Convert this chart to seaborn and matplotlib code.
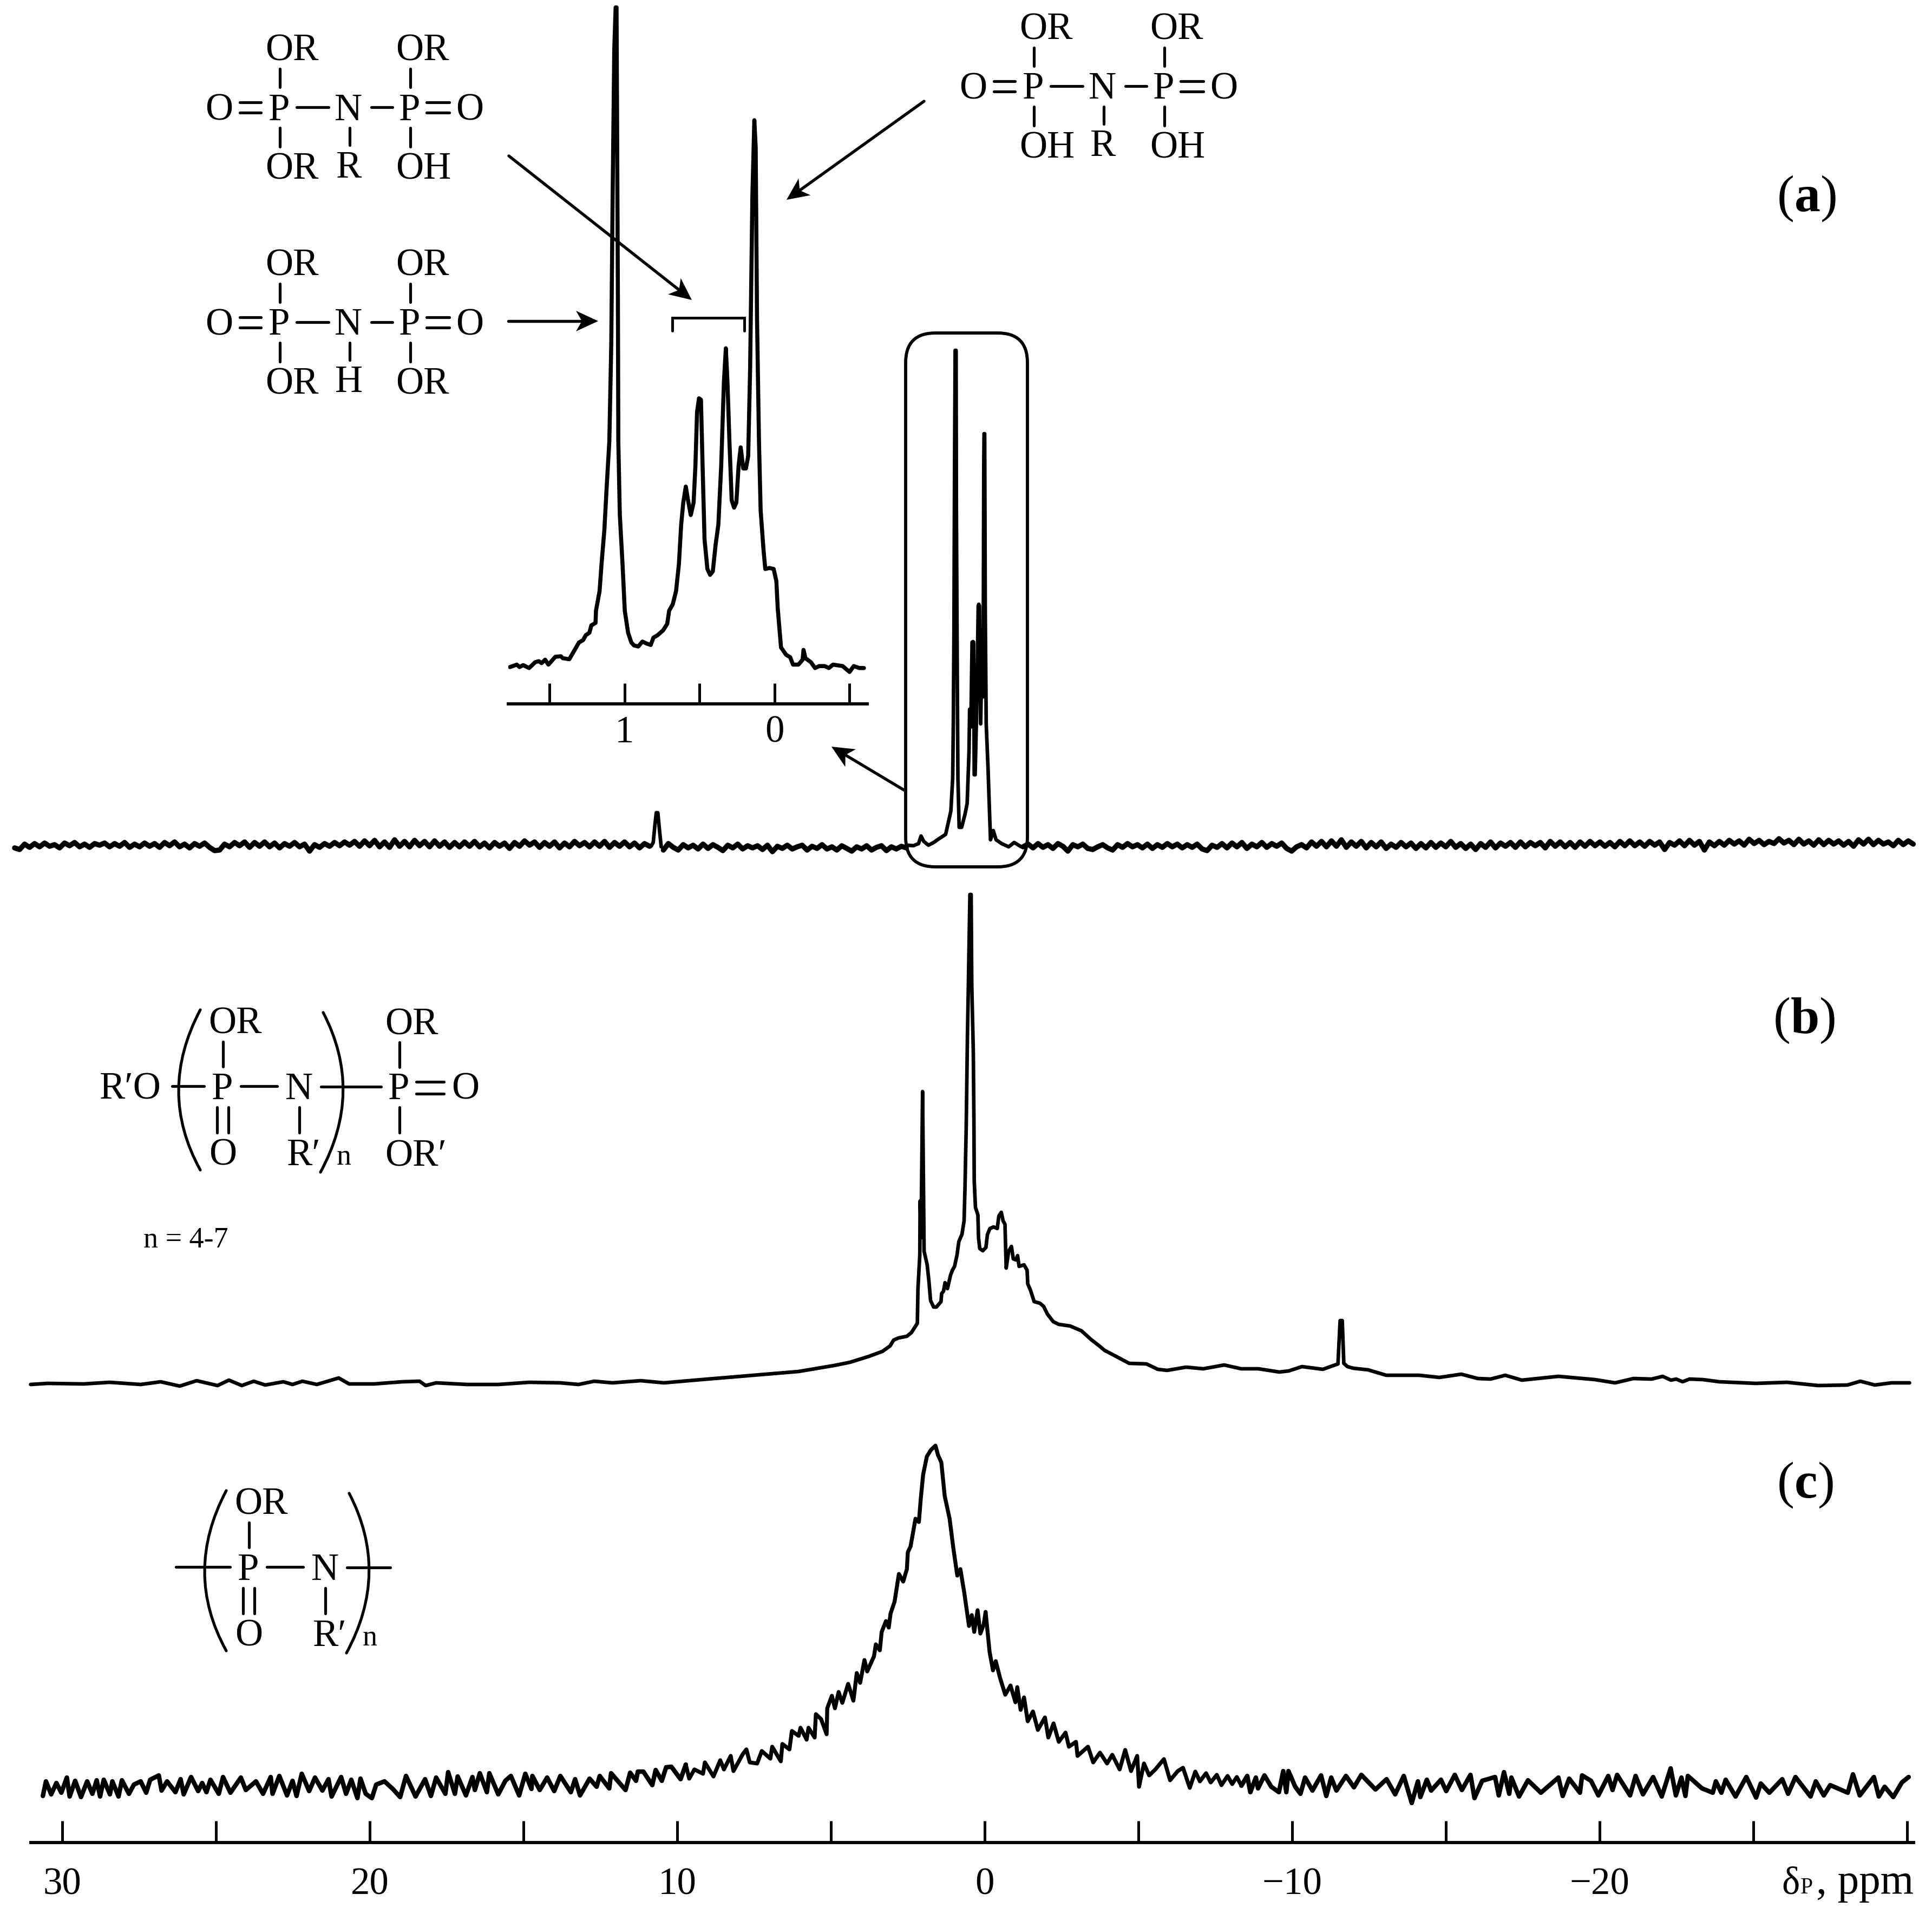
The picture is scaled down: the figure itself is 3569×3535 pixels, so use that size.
import numpy as np
import matplotlib
matplotlib.use("Agg")
import matplotlib.pyplot as plt
import seaborn as sns
from matplotlib.patches import FancyBboxPatch, PathPatch, Polygon
from matplotlib.path import Path

W, H = 3569, 3535
DPI = 300

# ── spectrum (a) ───────────────────────────────────────────────────────────
# noise on either side of the peaks, evenly sampled in ppm
a_noise_left = [
    -5,-8,2,-4,3,-3,4,-2,1,-5,4,-1,5,-3,2,-4,3,0,4,-3,
    3,-2,5,-4,2,-3,4,-2,3,-4,5,-1,6,-3,2,-5,3,-2,4,-4,
    -10,-9,2,-3,5,-1,6,-4,5,-2,6,-3,4,-5,3,-2,5,-3,2,-11,
    1,-4,3,-2,5,-1,6,0,7,-2,8,-1,9,-3,6,-4,10,-2,7,-3,
    9,-1,7,-3,8,-2,6,-4,5,-3,6,-2,7,-3,4,-5,5,-2,4,-6,
    5,-2,8,0,6,-4,5,-2,6,-5,4,-3,7,-1,5,-3,6,-2,7,-4,
    5,-2,6,-3,4,-5,3,-2]
a_spike_ppm = [10.85, 10.78, 10.72, 10.68, 10.63, 10.58, 10.52]
a_spike_int = [-2, 5, 40, 60, 60, 30, -3]
a_noise_mid = [
    -9,3,-4,-9,1,-5,0,-7,2,-6,1,-4,-10,0,-5,2,-7,-1,-5,-1,
    -8,0,-12,-2,-6,0,-7,-3,0,-9,-2,-6,1,-7,-3,-9,-1,-6,-11,-3,
    -7,-1,-9,-4,-1,-10,-3,-7,-2,-5]
a_peak_ppm = [
    2.51,2.32,2.15,2.07,1.98,1.83,1.66,1.51,1.27,1.19,1.10,1.04,1.02,1.00,0.98,0.96,0.93,0.92,
    0.89,0.87,0.83,0.75,0.64,0.57,0.51,0.49,0.45,0.41,0.38,0.36,0.34,0.31,0.26,0.21,0.19,0.17,
    0.13,0.10,0.05,0.03,0.02,0.00,-0.02,-0.05,-0.11,-0.16,-0.19,-0.28,-0.37,-0.55,-0.78,-0.96,-1.19]
a_peak_int = [
    0,-1,3,17,7,0,5,11,20,40,63,124,224,392,693,914,914,626,
    305,124,33,33,57,77,171,251,218,375,376,375,130,130,251,442,445,442,
    224,325,274,693,760,760,425,224,141,57,10,27,10,3,-3,5,-3]
a_noise_right = [
    -3,2,-5,3,-4,1,-6,3,-2,-11,1,-3,2,-6,-8,-3,1,-5,-9,1,
    -4,3,-3,1,-5,2,-6,1,-4,3,-3,2,-5,1,-4,2,-7,-10,0,-4,
    3,-5,4,-3,5,-6,2,-3,5,-4,3,-2,4,-6,-11,-3,1,-5,6,-2,
    7,-3,8,-2,10,-4,6,-2,7,-5,5,-3,6,-6,2,-4,5,-3,4,-6,
    3,-5,5,-4,4,-3,7,-4,3,-6,2,-8,3,-4,6,-5,4,-2,5,-4,
    6,-3,5,-1,5,-5,7,-2,6,-3,5,-4,6,-2,7,-1,6,-2,5,-3,
    7,-1,8,-1,6,-2,7,0,6,-8,5,0,8,-1,9,0,7,-9,6,-1,
    7,0,9,2,8,0,11,3,9,1,7,3,12,4,9,1,11,2,8,0,
    10,1,9,2,8,0,7,-2,10,2,11,1,9,2,6,-1,9,1,8,2]

# ── inset: expansion of (a) ────────────────────────────────────────────────
inset_ppm = [
    1.764,1.718,1.700,1.676,1.636,1.595,1.571,1.553,1.529,1.507,1.461,1.424,1.411,1.368,1.332,1.304,
    1.276,1.258,1.234,1.221,1.193,1.190,1.166,1.153,1.134,1.120,1.101,1.088,1.079,1.068,1.059,1.053,
    1.050,1.044,1.041,1.031,1.013,0.998,0.976,0.954,0.936,0.908,0.880,0.853,0.825,0.807,0.779,0.742,
    0.715,0.702,0.678,0.656,0.637,0.622,0.608,0.591,0.576,0.558,0.539,0.527,0.516,0.503,0.490,0.479,
    0.466,0.447,0.429,0.411,0.392,0.374,0.355,0.337,0.324,0.313,0.300,0.285,0.269,0.254,0.239,0.225,
    0.208,0.190,0.175,0.162,0.147,0.134,0.125,0.116,0.103,0.092,0.073,0.061,0.033,0.005,-0.013,-0.022,
    -0.044,-0.078,-0.105,-0.124,-0.160,-0.188,-0.194,-0.207,-0.243,-0.271,-0.299,-0.335,-0.363,-0.391,
    -0.455,-0.501,-0.529,-0.566,-0.597]
inset_int = [
    0,5,0,4,-2,10,12,8,15,5,21,22,18,16,35,50,
    55,65,70,85,90,115,155,210,280,360,460,660,960,1260,1345,1345,
    1160,760,460,310,210,115,70,50,44,42,52,48,45,60,65,75,
    88,115,128,155,210,290,335,368,340,310,335,410,520,548,545,410,
    260,200,188,195,250,290,410,580,650,580,460,340,325,335,410,448,
    405,405,430,610,960,1115,1060,710,460,320,240,200,202,200,175,120,
    40,25,20,5,5,15,35,18,10,-2,2,2,-2,5,
    2,-10,2,-2,-2]
inset_ticks = [1.5, 1, 0.5, 0, -0.5]
inset_ticklabels = ["", "1", "", "0", ""]

# ── spectrum (b) ───────────────────────────────────────────────────────────
b_ppm = [
    31.03,30.48,29.30,28.46,27.45,26.80,26.18,25.63,24.95,24.58,24.16,23.77,23.40,22.81,22.51,22.19,21.72,21.01,20.67,
    19.86,18.94,18.38,18.18,17.84,16.83,15.82,14.81,13.80,13.21,12.70,12.11,11.19,10.43,9.42,7.73,6.05,4.90,
    4.38,3.76,3.33,3.08,2.96,2.80,2.53,2.38,2.19,2.17,2.11,2.10,2.07,2.02,2.00,1.97,1.87,1.81,1.76,1.66,1.57,
    1.42,1.40,1.34,1.29,1.21,1.11,1.05,0.98,0.90,0.84,0.74,0.67,0.64,0.60,0.56,0.53,0.48,0.44,0.42,0.37,0.35,0.34,
    0.30,0.22,0.20,0.16,0.06,-0.04,-0.09,-0.17,-0.29,-0.41,-0.46,-0.54,-0.60,-0.66,-0.70,-0.78,-0.87,-0.93,-1.02,-1.07,
    -1.12,-1.28,-1.38,-1.40,-1.49,-1.61,-1.80,-1.92,-2.04,-2.23,-2.41,-2.78,-3.15,-3.46,-3.71,-3.90,-4.27,-4.70,-5.26,-5.63,
    -5.93,-6.55,-7.11,-7.79,-8.34,-8.90,-9.58,-9.89,-10.32,-11.00,-11.49,-11.56,-11.63,-11.68,-11.80,
    -11.99,-12.47,-13.06,-14.13,-14.79,-15.50,-16.04,-16.45,-16.93,-17.47,-18.66,-19.85,-20.50,-21.10,-21.69,-22.05,
    -22.32,-22.49,-22.70,-22.92,-23.36,-23.89,-25.08,-26.09,-27.11,-28.06,-28.48,-28.95,-29.49,-30.08]
b_int = [
    0,2,1,4,0,5,-3,7,-2,8,-2,6,-1,5,0,6,0,12,1,
    1,5,6,-2,3,0,0,4,3,0,6,3,7,3,8,16,24,35,
    41,52,61,71,82,86,89,96,113,177,239,339,271,541,427,246,221,189,155,143,143,
    153,168,172,188,177,202,211,218,239,264,277,302,364,477,646,739,905,905,739,615,489,377,
    327,313,271,251,247,253,277,288,291,288,311,318,302,296,215,246,255,232,230,238,
    218,221,211,186,174,153,150,144,130,116,111,108,99,83,72,63,52,39,38,28,
    26,32,29,36,29,29,23,25,33,28,38,118,118,39,33,
    30,27,17,17,13,19,11,10,17,8,15,9,3,11,10,15,
    8,10,5,10,9,5,2,4,-2,-1,6,-1,3,3]

# ── spectrum (c) ───────────────────────────────────────────────────────────
c_ppm_left = [
    30.63,30.53,30.36,30.19,30.03,29.85,29.76,29.58,29.39,29.19,29.02,28.88,28.77,28.65,28.45,28.37,28.17,28.06,27.83,27.67,
    27.45,27.27,27.14,26.86,26.77,26.59,26.32,26.15,26.05,25.81,25.58,25.45,25.31,25.18,24.91,24.77,24.53,24.19,24.03,23.70,
    23.47,23.22,23.16,22.94,22.69,22.51,22.38,22.21,21.97,21.78,21.54,21.34,21.24,20.93,20.77,20.60,20.40,20.30,20.13,19.93,
    19.79,19.52,19.25,19.01,18.82,18.51,18.20,18.01,17.84,17.54,17.45,17.23,17.14,16.87,16.66,16.58,16.42,16.19,16.11,15.82,
    15.59,15.41,15.14,14.94,14.74,14.71,14.47,14.23,14.00,13.80,13.46,13.32,13.16,12.85,12.62,12.52,12.21,12.15,11.68,11.53,
    11.34,11.28,11.10,10.81,10.70,10.50,10.36,10.19,9.89,9.72]
c_int_left = [
    -17,10,-14,7,-11,17,-18,11,-19,10,-13,12,-18,13,-14,10,-18,12,-13,4,
    10,-11,13,21,-7,10,-10,14,-14,18,-8,7,-10,13,-13,18,-11,17,-6,10,
    -13,18,-13,20,-16,11,-17,24,-8,17,-7,14,-18,18,-13,13,-21,15,-13,-21,
    4,10,-4,-19,20,-18,14,-17,17,-13,27,-13,19,-16,18,-6,25,-10,25,-14,
    11,20,-16,24,-4,20,-6,17,-8,20,-10,14,-16,15,0,20,-3,25,-6,26,
    11,28,28,3,31,11,36,37,14,41]
c_ppm_mid = [
    9.72,9.61,9.44,9.16,9.10,8.82,8.60,8.48,8.26,8.17,7.87,7.75,7.64,7.40,7.25,6.97,6.91,6.63,6.58,6.35,
    6.27,6.05,5.99,5.79,5.73,5.53,5.49,5.32,5.14,5.12,4.97,4.87,4.75,4.63,4.44,4.27,4.16,4.05,3.91,3.82,
    3.60,3.54,3.41,3.35,3.21,3.12,3.06,2.93,2.79,2.65,2.53,2.50,2.41,2.25,2.14,2.08,2.00,1.88,1.75,1.60,
    1.52,1.41,1.30,1.14,1.02,0.89,0.79,0.66,0.51,0.42,0.34,0.23,0.14,0.03,-0.03,-0.16,-0.27,-0.36,-0.50,-0.67,
    -0.84,-1.00,-1.06,-1.17,-1.28,-1.40,-1.57,-1.73,-1.96,-2.07,-2.24,-2.41,-2.63,-2.74,-2.97,-3.02,-3.36,-3.53,-3.75,-3.98,
    -4.15,-4.39,-4.57,-4.76,-4.96,-5.02,-5.18,-5.35,-5.55,-5.83,-6.03,-6.28,-6.45,-6.67,
    -6.85,-7.00,-7.20,-7.35,-7.55,-7.70,-7.90,-8.05,-8.20,-8.35]
c_int_mid = [
    41,15,32,24,45,19,49,32,57,29,60,69,45,43,66,52,74,47,79,69,
    103,94,109,87,109,91,134,125,97,145,168,145,175,155,190,159,210,192,234,213,
    241,263,252,286,306,294,320,342,393,379,402,433,444,495,489,531,577,610,622,630,
    613,599,537,495,441,390,402,357,297,317,286,326,283,300,323,249,215,232,201,170,
    187,156,184,142,165,121,139,105,128,91,117,83,100,74,83,57,74,45,63,43,
    59,32,68,29,57,0,43,21,32,51,12,29,35,-2,
    28,10,25,8,22,3,20,5,18,2]
c_ppm_right = [
    -8.35,-8.54,-8.64,-8.82,-8.89,-9.10,-9.32,-9.57,-9.71,-9.81,-9.88,-10.10,-10.27,-10.42,-10.66,-10.94,-11.11,-11.27,-11.44,-11.75,-12.01,
    -12.25,-12.71,-13.07,-13.35,-13.63,-13.89,-14.09,-14.17,-14.38,-14.52,-14.84,-15.01,-15.29,-15.52,-15.80,-15.93,-16.18,-16.60,-16.72,-16.89,
    -17.06,-17.13,-17.38,-17.67,-18.09,-18.66,-18.80,-19.01,-19.36,-19.43,-19.72,-19.96,-20.28,-20.42,-20.57,-20.99,-21.17,-21.41,-21.74,-22.02,
    -22.31,-22.48,-22.66,-22.79,-22.87,-23.33,-23.68,-23.78,-23.96,-24.10,-24.42,-24.77,-25.09,-25.24,-25.52,-25.94,-26.13,-26.37,-26.86,-27.03,
    -27.29,-27.50,-28.07,-28.24,-28.46,-28.92,-29.08,-29.27,-29.55,-29.83,-30.05]
c_int_right = [
    2,20,-10,17,-3,21,0,-10,29,-10,29,0,-13,17,-7,21,-17,17,-7,20,-1,
    22,-5,14,-14,20,-30,10,-19,13,-7,13,-8,22,-6,22,-21,11,18,-16,27,
    -13,17,-18,12,-11,17,-17,15,-11,21,11,-16,20,-6,22,-16,20,-14,18,-18,
    34,-16,17,-17,20,-3,-11,10,-11,13,-18,18,-20,6,-11,14,-13,18,-18,10,
    -16,3,-11,23,-16,18,-18,0,-19,8,18]

ppm_ticks = [30, 25, 20, 15, 10, 5, 0, -5, -10, -15, -20, -25, -30]
ppm_ticklabels = ["30", "", "20", "", "10", "", "0", "", "\u221210", "", "\u221220", "", ""]

# pixel scale of the main ppm axis in the figure
PX_AT_0 = 1819
PX_PER_PPM = 56.8
LW = 1.6
LW_NOISE = 2.3

sns.set_theme(style="white")
plt.rcParams["font.family"] = ["Liberation Serif", "DejaVu Serif"]

fig = plt.figure(figsize=(W / DPI, H / DPI), dpi=DPI, facecolor="white")


def panel(y_top, y_bottom, baseline):
    # full width axes, intensity counted in pixels above the baseline
    ax = fig.add_axes([0, 1 - y_bottom / H, 1, (y_bottom - y_top) / H], facecolor="none")
    ax.set_xlim(PX_AT_0 / PX_PER_PPM, (PX_AT_0 - W) / PX_PER_PPM)
    ax.set_ylim(baseline - y_bottom, baseline - y_top)
    sns.despine(ax=ax, left=True, bottom=True)
    ax.set_yticks([])
    ax.set_xticks([])
    return ax


def trace(ax, x, y, lw=LW):
    sns.lineplot(x=x, y=y, ax=ax, color="black", linewidth=lw, estimator=None, sort=False, errorbar=None)
    ax.set(xlabel=None, ylabel=None)


ax_a = panel(560, 1640, 1561)
trace(ax_a, np.linspace(31.55, 10.9, len(a_noise_left)), a_noise_left, LW_NOISE)
trace(ax_a, a_spike_ppm, a_spike_int)
trace(ax_a, np.linspace(10.45, 2.55, len(a_noise_mid)), a_noise_mid, LW_NOISE)
trace(ax_a, a_peak_ppm, a_peak_int)
trace(ax_a, np.linspace(-1.25, -30.2, len(a_noise_right)), a_noise_right, LW_NOISE)

ax_b = panel(1640, 2640, 2557)
trace(ax_b, b_ppm, b_int)

ax_c = panel(2650, 3403, 3300)
trace(ax_c, c_ppm_left, c_int_left, 2.0)
trace(ax_c, c_ppm_mid, c_int_mid, 1.75)
trace(ax_c, c_ppm_right, c_int_right, 2.0)
ax_c.spines["bottom"].set_visible(True)
ax_c.spines["bottom"].set_color("black")
ax_c.spines["bottom"].set_linewidth(1.4)
ax_c.spines["bottom"].set_bounds((PX_AT_0 - 57) / PX_PER_PPM, (PX_AT_0 - 3535) / PX_PER_PPM)
ax_c.set_xticks(ppm_ticks)
ax_c.set_xticklabels(ppm_ticklabels)
ax_c.tick_params(axis="x", direction="in", length=9.6, width=1.2, color="black", pad=11,
                 bottom=True, labelsize=17, labelcolor="black")

# inset axes with its own ppm scale
INSET_LEFT, INSET_RIGHT, INSET_AXIS = 939, 1602, 1300
ax_in = fig.add_axes([INSET_LEFT / W, 1 - INSET_AXIS / H, (INSET_RIGHT - INSET_LEFT) / W, INSET_AXIS / H],
                     facecolor="none")
ax_in.set_xlim((1430.6 - INSET_LEFT) / 277, (1430.6 - INSET_RIGHT) / 277)
ax_in.set_ylim((1232 - INSET_AXIS) * 1.104, 1232 * 1.104)
sns.despine(ax=ax_in, left=True)
trace(ax_in, inset_ppm, inset_int, 1.8)
ax_in.set_yticks([])
ax_in.set_xticks(inset_ticks)
ax_in.set_xticklabels(inset_ticklabels)
ax_in.spines["bottom"].set_color("black")
ax_in.spines["bottom"].set_linewidth(1.4)
ax_in.tick_params(axis="x", direction="in", length=9.2, width=1.2, color="black", pad=5,
                  bottom=True, labelsize=17, labelcolor="black")

# ── drawing layer in figure pixels: structures, arrows, panel letters ──────
ov = fig.add_axes([0, 0, 1, 1], facecolor="none")
ov.set_xlim(0, W)
ov.set_ylim(H, 0)
ov.axis("off")

FS = 17


def txt(x, cy, s, ha="center", fs=FS, **kw):
    # cy is the middle of a capital letter
    ov.text(x, cy + 23.5 * fs / FS, s, ha=ha, va="baseline", fontsize=fs, color="black", **kw)


def bond(x0, y0, x1, y1, lw=1.25):
    ov.plot([x0, x1], [y0, y1], color="black", lw=lw, solid_capstyle="round")


def arrow(x0, y0, x1, y1):
    # shaft plus a notched head, the head is 41 px long and 38 px wide
    d = np.array([x1 - x0, y1 - y0], dtype=float)
    d /= np.hypot(*d)
    n = np.array([-d[1], d[0]])
    tip = np.array([x1, y1], dtype=float)
    notch = tip - 30 * d
    bond(x0, y0, notch[0], notch[1], lw=1.3)
    ov.add_patch(Polygon([tip, tip - 41 * d + 19 * n, notch, tip - 41 * d - 19 * n],
                         closed=True, facecolor="black", edgecolor="none"))


def draw_pnp(dx, dy, bottom):
    for x in (490, 731):
        txt(x + dx, 88 + dy, "OR", ha="left")
    for x, s in ((405, "O"), (516, "P"), (644, "N"), (757, "P"), (867.5, "O")):
        txt(x + dx, 198 + dy, s)
    bond(443 + dx, 189 + dy, 482 + dx, 189 + dy)
    bond(443 + dx, 208 + dy, 482 + dx, 208 + dy)
    bond(788 + dx, 189 + dy, 830 + dx, 189 + dy)
    bond(788 + dx, 208 + dy, 830 + dx, 208 + dy)
    bond(548 + dx, 198 + dy, 607 + dx, 198 + dy)
    bond(686 + dx, 198 + dy, 725 + dx, 198 + dy)
    for x in (516.5, 757.5):
        bond(x + dx, 127 + dy, x + dx, 161 + dy)
        bond(x + dx, 236 + dy, x + dx, 271 + dy)
    bond(646 + dx, 236 + dy, 646 + dx, 268 + dy)
    txt(490 + dx, 307 + dy, bottom[0], ha="left")
    txt(645 + dx, 304 + dy, bottom[1])
    txt(731 + dx, 307 + dy, bottom[2], ha="left")


def paren(x0, y0, xc, yc, x1, y1):
    p = Path([(x0, y0), (xc, yc), (x1, y1)], [Path.MOVETO, Path.CURVE3, Path.CURVE3])
    ov.add_patch(PathPatch(p, fill=False, lw=1.25, edgecolor="black", capstyle="round"))


def draw_unit(dx, dy):
    txt(385 + dx, 1885 + dy, "OR", ha="left")
    bond(411.5 + dx, 1924 + dy, 411.5 + dx, 1970 + dy)
    txt(410.5 + dx, 2006 + dy, "P")
    bond(445 + dx, 2006 + dy, 512 + dx, 2006 + dy)
    txt(552.5 + dx, 2006 + dy, "N")
    bond(400.5 + dx, 2045 + dy, 400.5 + dx, 2092 + dy)
    bond(422 + dx, 2045 + dy, 422 + dx, 2092 + dy)
    txt(411.5 + dx, 2128 + dy, "O")
    bond(552.5 + dx, 2045 + dy, 552.5 + dx, 2092 + dy)
    txt(529.5 + dx, 2128 + dy, "R\u2032", ha="left")
    paren(370 + dx, 1865 + dy, 290 + dx, 2016 + dy, 370 + dx, 2161 + dy)
    paren(597 + dx, 1870 + dy, 673 + dx, 2016 + dy, 592 + dx, 2165 + dy)
    ov.text(622 + dx, 2151 + dy, "n", ha="left", va="baseline", fontsize=13, color="black")


draw_pnp(0, 0, ("OR", "R", "OH"))
draw_pnp(0, 397, ("OR", "H", "OR"))
draw_pnp(1393, -39, ("OH", "R", "OH"))

arrow(940, 288, 1278, 554)
arrow(1707, 187, 1453, 369)
arrow(939, 593, 1105, 593)
arrow(1673, 1461, 1536, 1379)

# bracket over the inset multiplet
ov.plot([1242, 1242, 1374.5, 1374.5], [611, 587, 587, 611], color="black", lw=1.2, solid_joinstyle="miter")

# rounded box around the expanded region
r = 55
ov.add_patch(FancyBboxPatch((1673 + r, 615 + r), 225 - 2 * r, 986 - 2 * r,
                            boxstyle=f"round,pad={r},rounding_size={r}",
                            fill=False, edgecolor="black", lw=1.4))

# (b) structure
txt(183.5, 2006, "R\u2032O", ha="left")
bond(318, 2006, 377, 2006)
draw_unit(0, 0)
bond(593, 2007, 704, 2007)
txt(737, 2006, "P")
bond(769, 1998, 820, 1998)
bond(769, 2020, 820, 2020)
txt(860, 2006, "O")
txt(711.5, 1887, "OR", ha="left")
bond(738, 1925, 738, 1971)
bond(738, 2045, 738, 2092)
txt(711.5, 2130, "OR\u2032", ha="left")
ov.text(265, 2304, "n = 4-7", ha="left", va="baseline", fontsize=13, color="black")

# (c) structure
draw_unit(48, 888)
bond(325, 2894, 425, 2894)
bond(641, 2895, 721, 2895)

# panel letters, bold letter between plain brackets
for x, base, letter, adv in ((3283, 390, "a", 48), (3276, 1908, "b", 53), (3283, 2766, "c", 43)):
    ov.text(x, base, "(", ha="left", va="baseline", fontsize=23, color="black")
    ov.text(x + 32, base, letter, ha="left", va="baseline", fontsize=23, fontweight="bold", color="black")
    ov.text(x + 32 + adv, base, ")", ha="left", va="baseline", fontsize=23, color="black")

# axis title next to the last tick
ov.text(3291, 3497, "\u03b4", ha="left", va="baseline", fontsize=17, color="black")
ov.text(3326, 3497, "P", ha="left", va="baseline", fontsize=10, color="black")
ov.text(3355, 3497, ", ppm", ha="left", va="baseline", fontsize=19, color="black")

fig.savefig("out.png", dpi=DPI, facecolor="white")
print("saved")
